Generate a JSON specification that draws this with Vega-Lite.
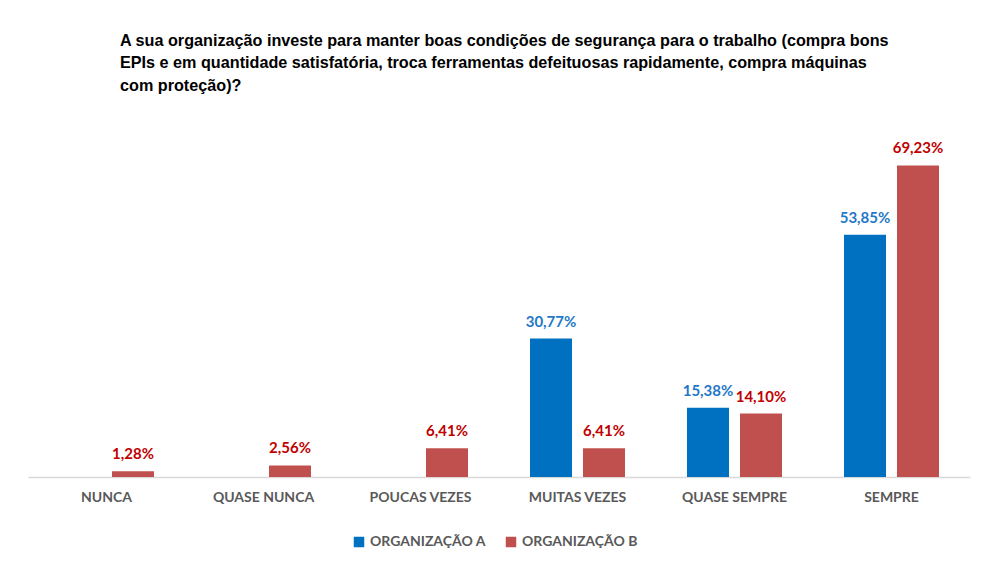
{
  "$schema": "https://vega.github.io/schema/vega-lite/v6.json",
  "width": 942,
  "height": 360,
  "padding": {"left": 28, "top": 32, "right": 10, "bottom": 10},
  "background": "white",
  "config": {
    "locale": {"number": {"decimal": ",", "thousands": ".", "grouping": [3], "currency": ["", ""]}},
    "view": {"stroke": null},
    "font": "Lato"
  },
  "title": {
    "text": [
      "A sua organização investe para manter boas condições de segurança para o trabalho (compra bons",
      "EPIs e em quantidade satisfatória, troca ferramentas defeituosas rapidamente, compra máquinas",
      "com proteção)?"
    ],
    "anchor": "start",
    "dx": 92,
    "font": "Liberation Sans",
    "fontSize": 16.2,
    "fontWeight": "bold",
    "color": "#000000",
    "lineHeight": 22.5,
    "offset": 23
  },
  "data": {
    "values": [
      {"categoria": "NUNCA", "org": "ORGANIZAÇÃO B", "valor": 0.0128},
      {"categoria": "QUASE NUNCA", "org": "ORGANIZAÇÃO B", "valor": 0.0256},
      {"categoria": "POUCAS VEZES", "org": "ORGANIZAÇÃO B", "valor": 0.0641},
      {"categoria": "MUITAS VEZES", "org": "ORGANIZAÇÃO A", "valor": 0.3077},
      {"categoria": "MUITAS VEZES", "org": "ORGANIZAÇÃO B", "valor": 0.0641},
      {"categoria": "QUASE SEMPRE", "org": "ORGANIZAÇÃO A", "valor": 0.1538},
      {"categoria": "QUASE SEMPRE", "org": "ORGANIZAÇÃO B", "valor": 0.141},
      {"categoria": "SEMPRE", "org": "ORGANIZAÇÃO A", "valor": 0.5385},
      {"categoria": "SEMPRE", "org": "ORGANIZAÇÃO B", "valor": 0.6923}
    ]
  },
  "encoding": {
    "x": {
      "field": "categoria",
      "type": "nominal",
      "sort": ["NUNCA", "QUASE NUNCA", "POUCAS VEZES", "MUITAS VEZES", "QUASE SEMPRE", "SEMPRE"],
      "scale": {"paddingInner": 0, "paddingOuter": 0},
      "axis": {
        "title": null,
        "labelAngle": 0,
        "ticks": false,
        "domainColor": "#D9D9D9",
        "domainWidth": 1.5,
        "labelColor": "#595959",
        "labelFont": "Lato",
        "labelFontWeight": "bold",
        "labelFontSize": 14,
        "labelPadding": 13,
        "grid": false
      }
    },
    "xOffset": {
      "field": "org",
      "type": "nominal",
      "sort": ["ORGANIZAÇÃO A", "ORGANIZAÇÃO B"],
      "scale": {"domain": ["ORGANIZAÇÃO A", "ORGANIZAÇÃO B"], "paddingInner": 0.2075, "paddingOuter": 0.585}
    },
    "y": {
      "field": "valor",
      "type": "quantitative",
      "scale": {"domain": [0, 0.8]},
      "axis": null
    }
  },
  "layer": [
    {
      "mark": {"type": "bar"},
      "encoding": {
        "color": {
          "field": "org",
          "type": "nominal",
          "scale": {"domain": ["ORGANIZAÇÃO A", "ORGANIZAÇÃO B"], "range": ["#0070C0", "#C0504D"]},
          "legend": {
            "title": null,
            "orient": "none",
            "legendX": 324,
            "legendY": 418,
            "direction": "horizontal",
            "symbolType": "square",
            "symbolSize": 110,
            "symbolStrokeWidth": 0,
            "labelColor": "#595959",
            "labelFont": "Lato",
            "labelFontWeight": "bold",
            "labelFontSize": 14,
            "columnPadding": 18
          }
        }
      }
    },
    {
      "mark": {"type": "text", "baseline": "bottom", "dy": -9, "fontWeight": "bold", "fontSize": 15, "font": "Lato"},
      "encoding": {
        "text": {"field": "valor", "type": "quantitative", "format": ".2%"},
        "color": {
          "field": "org",
          "type": "nominal",
          "scale": {"domain": ["ORGANIZAÇÃO A", "ORGANIZAÇÃO B"], "range": ["#1F78C8", "#C00000"]},
          "legend": null
        }
      }
    }
  ],
  "resolve": {"scale": {"color": "independent"}}
}
